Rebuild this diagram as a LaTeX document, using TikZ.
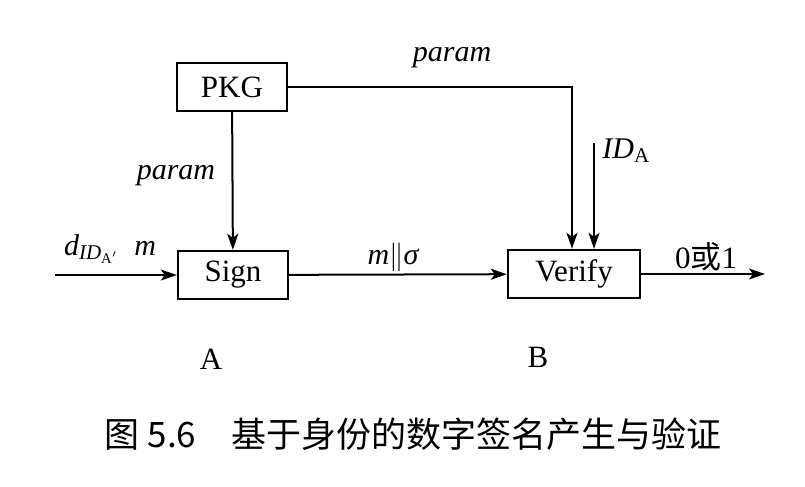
\documentclass[tikz,border=0pt]{standalone}
\usepackage{fontspec}
\setmainfont{Liberation Serif}
\newfontfamily\cjkfont{Noto Sans CJK SC}
\usetikzlibrary{arrows.meta,positioning}

\tikzset{
  blk/.style={draw, line width=1.2pt, minimum width=55pt, minimum height=24pt,
    inner sep=0pt, font=\fontsize{15.5}{18}\selectfont},
  arr/.style={line width=1pt, -{Stealth[length=8pt,width=5.5pt,inset=2pt]}},
  lbl/.style={inner sep=1pt, font=\fontsize{15}{18}\selectfont\itshape},
  tag/.style={inner sep=1pt, font=\fontsize{15.5}{18}\selectfont},
}

\begin{document}
\begin{tikzpicture}[x=0.5pt, y=-0.5pt]
  \useasboundingbox (0,0) rectangle (805,487);
  % boxes
  \node [blk] (pkg) at (232,87) {PKG};
  \node [blk] (sign) at (233,275) {Sign};
  \node [blk, minimum width=66pt] (ver) at (574,274) {Verify};
  % free ends
  \coordinate (in) at (55,275);
  \coordinate (out) at (765,274);
  \coordinate (ida) at (594,143);
  \draw [arr] (in) -- (sign);
  \draw [arr] (pkg) -- (sign);
  \draw [arr] (sign) -- (ver);
  \draw [arr] (pkg.east) -| ([xshift=-1pt]ver.north);
  \draw [arr] (ida) -- (ida |- ver.north);
  \draw [arr] (ver) -- (out);
  % labels
  \node [lbl] (p1) at (452,58) {param};
  \node [lbl] (p2) at (176,176) {param};
  \node [lbl] (din) at (110,249) {d\textsubscript{ID\textsubscript{\upshape A$'$}}\ \ m};
  \node [lbl, right=3pt of ida, yshift=-4pt] (idl) {ID\textsubscript{\upshape A}};
  \node [lbl] (msg) at (393,257) {m$\|$σ};
  \node [tag] (res) at (706,257) {0{\cjkfont 或}1};
  \node [tag, below=23pt of sign, xshift=-11pt] (a) {A};
  \node [tag, below=23pt of ver, xshift=-18pt] (b) {B};
  \node [font=\fontsize{17.5}{20}\selectfont\cjkfont] (cap) at (413,434)
    {图 5.6\quad 基于身份的数字签名产生与验证};
\end{tikzpicture}
\end{document}
